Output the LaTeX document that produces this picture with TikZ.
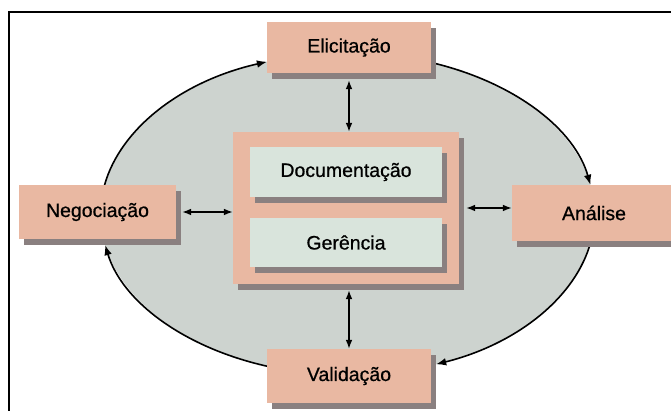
\documentclass[tikz,border=0pt]{standalone}
\usepackage{fontspec}
\setmainfont{Liberation Sans}
\newfontfamily\boxfont{Liberation Sans}[FakeBold=0.7]
\usepackage{xcolor}
\usepackage{tikz}
\usetikzlibrary{arrows.meta,shadows,calc}

\definecolor{salmon}{RGB}{233,184,162}
\definecolor{palegreen}{RGB}{217,228,220}
\definecolor{ringgray}{RGB}{205,211,207}
\definecolor{shadegray}{RGB}{138,128,128}

\begin{document}
\begin{tikzpicture}[
  x=1pt, y=1pt,
  phase/.style={rectangle, fill=salmon, inner sep=0pt, minimum width=164pt, minimum height=54pt,
    font=\boxfont\fontsize{19.5}{22}\selectfont,
    drop shadow={shadow xshift=5pt, shadow yshift=-6pt, fill=shadegray, opacity=1}},
  part/.style={phase, fill=palegreen, minimum width=192pt, minimum height=50pt},
  dbl/.style={Latex-Latex, line width=1.3pt},
  ring/.style={-Latex, line width=1.6pt}
]
\useasboundingbox (0,0) rectangle (671,411);

% Frame
\draw[line width=2pt] (8.5,0) |- (680,399);

% Cycle
\coordinate (mid) at (347.5,197);
\fill[ringgray] (mid) ellipse [x radius=247pt, y radius=161pt];
\coordinate (negtop) at ($(mid)+(169.6:247pt and 161pt)$);
\coordinate (elicright) at ($(mid)+(69.3:247pt and 161pt)$);
\coordinate (analbot) at ($(mid)+(-11.8:247pt and 161pt)$);
\coordinate (valileft) at ($(mid)+(251:247pt and 161pt)$);
\draw[ring] (negtop) arc[start angle=169.6, end angle=109, x radius=247pt, y radius=161pt];
\draw[ring] (elicright) arc[start angle=69.3, end angle=10.4, x radius=247pt, y radius=161pt];
\draw[ring] (analbot) arc[start angle=-11.8, end angle=-69, x radius=247pt, y radius=161pt];
\draw[ring] (valileft) arc[start angle=251, end angle=191.1, x radius=247pt, y radius=161pt];

% Phases
\node[phase, minimum height=51pt] (elic) at (349,363.5) {Elicitação};
\node[phase, minimum width=157pt] (nego) at (97.5,199) {Negociação};
\node[phase, minimum height=56pt] (anal) at (594,198) {Análise};
\node[phase] (vali) at (349,35) {Validação};

% Centre
\node[phase, minimum width=226pt, minimum height=152pt] (cbox) at (346,203) {};
\node[part] (doc) at (346,239) {Documentação};
\node[part, minimum height=49pt] (ger) at (346,168.5) {Gerência};

% Arrows
\draw[dbl, shorten <=7pt] (elic.south) -- (elic.south |- cbox.north);
\draw[dbl, shorten <=6pt] (nego.east) -- (nego.east -| cbox.west);
\draw[dbl, shorten <=7pt] (cbox.east) -- (cbox.east -| anal.west);
\draw[dbl, shorten <=6pt] (vali.north |- cbox.south) -- (vali.north);

\end{tikzpicture}
\end{document}
